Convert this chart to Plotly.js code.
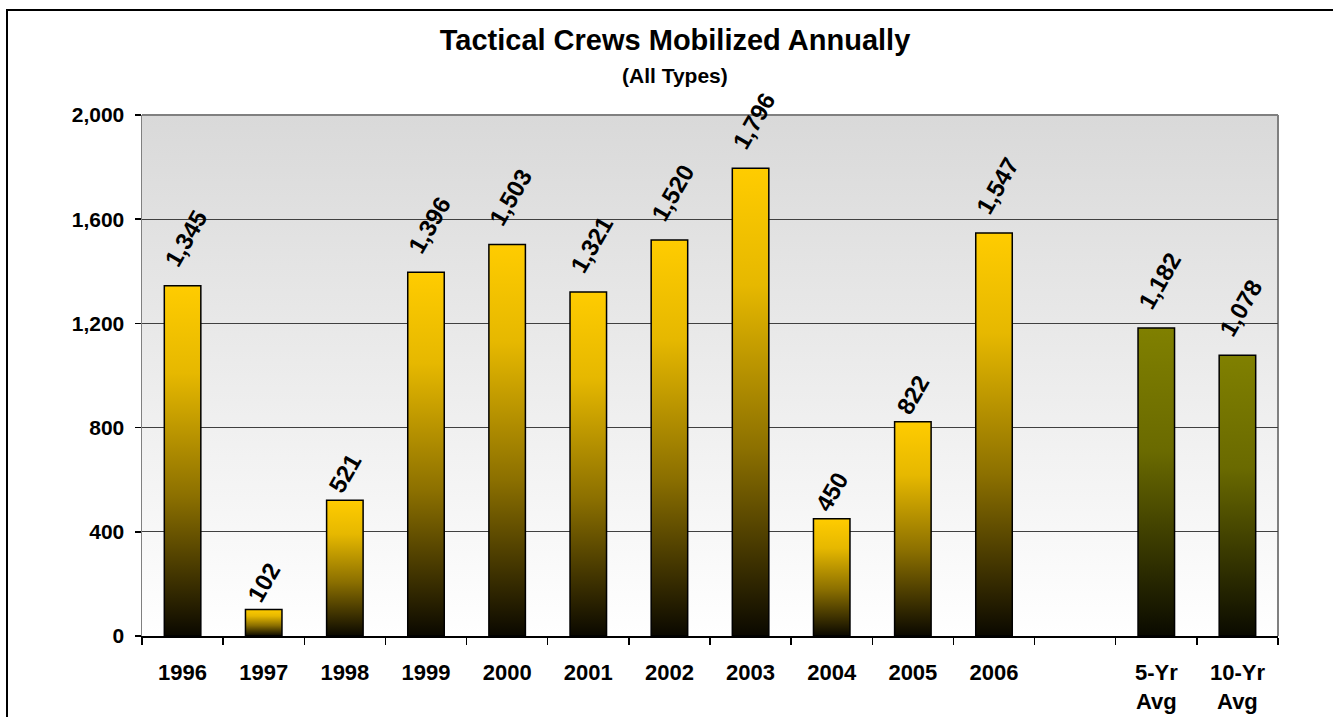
<!DOCTYPE html>
<html>
<head>
<meta charset="utf-8">
<script src="https://cdn.plot.ly/plotly-3.0.1.min.js"></script>
<style>
  html, body { margin: 0; padding: 0; background: #fff; }
  #chart { width: 1333px; height: 717px; }
</style>
</head>
<body>
<div id="chart"></div>
<script>
// ---- data ----
const categories = ['1996','1997','1998','1999','2000','2001','2002','2003','2004','2005','2006',' ','5-Yr<br>Avg','10-Yr<br>Avg'];
const yearLabels = ['1996','1997','1998','1999','2000','2001','2002','2003','2004','2005','2006'];
const yearValues = [1345, 102, 521, 1396, 1503, 1321, 1520, 1796, 450, 822, 1547];
const avgLabels = ['5-Yr<br>Avg','10-Yr<br>Avg'];
const avgValues = [1182, 1078];
const yTickVals = [0, 400, 800, 1200, 1600, 2000];
const titleText = 'Tactical Crews Mobilized Annually';
const subtitleText = '(All Types)';

const FONT = 'Liberation Sans, Arial, sans-serif';
const labelFont = { family: FONT, size: 24, color: '#000' };

// value label text: thousands separator; longer labels sit a little higher (leading no-break spaces)
function labelText(v) {
  const s = v.toLocaleString('en-US');
  return '<b>' + (v >= 1000 ? '\u00A0\u00A0' : '') + s + '</b>';
}

const traces = [
  {
    type: 'bar', x: yearLabels, y: yearValues,
    marker: { color: '#FFCC00', line: { color: '#000', width: 1.5 } },
    text: yearValues.map(labelText), texttemplate: '%{text}',
    textposition: 'outside', textangle: -60, constraintext: 'none',
    textfont: labelFont, cliponaxis: false, hoverinfo: 'none'
  },
  {
    type: 'bar', x: avgLabels, y: avgValues,
    marker: { color: '#808000', line: { color: '#000', width: 1.5 } },
    text: avgValues.map(labelText), texttemplate: '%{text}',
    textposition: 'outside', textangle: -60, constraintext: 'none',
    textfont: labelFont, cliponaxis: false, hoverinfo: 'none'
  }
];

const bgSvg = "<svg xmlns='http://www.w3.org/2000/svg' width='10' height='100' preserveAspectRatio='none'>" +
  "<defs><linearGradient id='g' x1='0' y1='0' x2='0' y2='1'>" +
  "<stop offset='0' stop-color='#D9D9D9'/><stop offset='1' stop-color='#FFFFFF'/></linearGradient></defs>" +
  "<rect width='10' height='100' fill='url(#g)'/></svg>";

const layout = {
  width: 1333, height: 717,
  margin: { l: 142, r: 55, t: 115, b: 81 },
  paper_bgcolor: '#FFFFFF',
  plot_bgcolor: 'rgba(0,0,0,0)',
  showlegend: false,
  barmode: 'overlay',
  bargap: 0.55,
  font: { family: FONT, color: '#000' },
  title: {
    text: '<b>' + titleText + '</b>',
    font: { family: FONT, size: 29, color: '#000' },
    xref: 'container', x: 675/1333, xanchor: 'center',
    yref: 'container', y: 1 - 40/717, yanchor: 'middle'
  },
  annotations: [{
    text: '<b>' + subtitleText + '</b>',
    font: { family: FONT, size: 21, color: '#000' },
    xref: 'paper', yref: 'paper',
    x: (675-142)/1136, y: (636-75)/521, xanchor: 'center', yanchor: 'middle',
    showarrow: false
  }],
  xaxis: {
    type: 'category',
    categoryorder: 'array', categoryarray: categories,
    range: [-0.5, categories.length - 0.5],
    tickmode: 'array', tickvals: categories, ticktext: categories.map(c => '<b>' + c + '</b>'),
    tickson: 'boundaries',
    ticks: 'outside', ticklen: 7, tickcolor: '#000', tickwidth: 1.5,
    showline: true, linecolor: '#000', linewidth: 1.5,
    showgrid: false,
    tickfont: { family: FONT, size: 22, color: '#000' },
    ticklabelstandoff: 16,
    fixedrange: true
  },
  yaxis: {
    range: [0, 2000],
    tickmode: 'array', tickvals: yTickVals,
    ticktext: yTickVals.map(v => '<b>' + v.toLocaleString('en-US') + '</b>'),
    ticks: 'outside', ticklen: 6, tickcolor: '#000', tickwidth: 1.5,
    showline: true, linecolor: '#808080', linewidth: 1.5,
    showgrid: true, gridcolor: '#404040', gridwidth: 1,
    zeroline: false,
    tickfont: { family: FONT, size: 21, color: '#000' },
    ticklabelstandoff: 6,
    fixedrange: true
  },
  images: [{
    source: 'data:image/svg+xml;charset=utf-8,' + encodeURIComponent(bgSvg),
    xref: 'paper', yref: 'paper', x: 0, y: 1, sizex: 1, sizey: 1,
    xanchor: 'left', yanchor: 'top', sizing: 'stretch', layer: 'below'
  }],
  shapes: [
    { type: 'line', xref: 'paper', yref: 'paper', x0: 0, x1: 1, y0: 1, y1: 1,
      line: { color: '#808080', width: 2 }, layer: 'below' },
    { type: 'line', xref: 'paper', yref: 'paper', x0: 1, x1: 1, y0: 0, y1: 1,
      line: { color: '#808080', width: 2 }, layer: 'below' },
    { type: 'rect', xref: 'paper', yref: 'paper',
      x0: (7-142)/1136, x1: (1345-142)/1136, y0: (636-730)/521, y1: (636-10)/521,
      line: { color: '#000', width: 2 }, fillcolor: 'rgba(0,0,0,0)', layer: 'above' }
  ]
};

Plotly.newPlot('chart', traces, layout, { staticPlot: true, displayModeBar: false }).then(function (gd) {
  const svg = gd.querySelector('svg.main-svg');
  const ns = 'http://www.w3.org/2000/svg';
  let defs = svg.querySelector('defs');
  if (!defs) { defs = document.createElementNS(ns, 'defs'); svg.insertBefore(defs, svg.firstChild); }
  function addGrad(id, stops) {
    const lg = document.createElementNS(ns, 'linearGradient');
    lg.setAttribute('id', id);
    lg.setAttribute('x1', '0'); lg.setAttribute('y1', '0');
    lg.setAttribute('x2', '0'); lg.setAttribute('y2', '1');
    stops.forEach(function (s) {
      const st = document.createElementNS(ns, 'stop');
      st.setAttribute('offset', s[0]);
      st.setAttribute('stop-color', s[1]);
      lg.appendChild(st);
    });
    defs.appendChild(lg);
  }
  addGrad('gradGold', [[0, '#FFCC00'], [0.25, '#E6B800'], [0.6, '#8C7000'], [1, '#0A0800']]);
  addGrad('gradOlive', [[0, '#808000'], [0.4, '#6A6A00'], [1, '#0A0A00']]);
  const traceGroups = gd.querySelectorAll('.barlayer .trace.bars');
  traceGroups.forEach(function (tg, i) {
    tg.querySelectorAll('.point path').forEach(function (p) {
      p.style.fill = i === 0 ? 'url(#gradGold)' : 'url(#gradOlive)';
      p.style.fillOpacity = 1;
    });
  });
});
</script>
</body>
</html>
